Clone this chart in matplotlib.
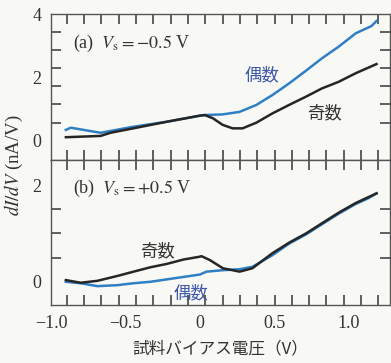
import numpy as np
import matplotlib.pyplot as plt

plt.rcParams['font.family'] = ['Liberation Serif', 'Noto Sans CJK JP']
plt.rcParams['mathtext.fontset'] = 'stix'
plt.rcParams['font.size'] = 13
plt.rcParams['axes.edgecolor'] = '#555555'
plt.rcParams['axes.linewidth'] = 1.0

# (a) Vs = -0.5 V
top_even_v = [-0.9, -0.867, -0.667, -0.447, -0.22, 0.0, 0.033, 0.153, 0.267, 0.38,
              0.487, 0.6, 0.713, 0.82, 0.933, 1.047, 1.153, 1.187]
top_even_g = [0.34, 0.41, 0.25, 0.44, 0.60, 0.79, 0.81, 0.83, 0.91, 1.13,
              1.44, 1.81, 2.21, 2.60, 2.97, 3.39, 3.62, 3.78]
top_odd_v = [-0.9, -0.667, -0.6, -0.447, -0.22, 0.0, 0.033, 0.087, 0.153, 0.22,
             0.287, 0.38, 0.487, 0.6, 0.713, 0.82, 0.933, 1.047, 1.187]
top_odd_g = [0.11, 0.15, 0.25, 0.39, 0.60, 0.79, 0.81, 0.71, 0.50, 0.39,
             0.39, 0.57, 0.86, 1.13, 1.39, 1.65, 1.86, 2.13, 2.42]

# (b) Vs = +0.5 V
bot_odd_v = [-0.9, -0.8, -0.689, -0.555, -0.445, -0.333, -0.222, -0.111, 0.0, 0.011,
             0.067, 0.155, 0.267, 0.353, 0.487, 0.6, 0.713, 0.82, 0.933, 1.047, 1.187]
bot_odd_g = [0.035, -0.02, 0.02, 0.12, 0.21, 0.30, 0.37, 0.46, 0.52, 0.53,
             0.45, 0.28, 0.21, 0.28, 0.59, 0.81, 1.00, 1.21, 1.43, 1.63, 1.83]
bot_even_v = [-0.9, -0.8, -0.689, -0.555, -0.445, -0.333, -0.222, -0.111, 0.0, 0.045,
              0.155, 0.267, 0.353, 0.487, 0.6, 0.713, 0.82, 0.933, 1.047, 1.133, 1.187]
bot_even_g = [0.0, -0.03, -0.09, -0.07, -0.03, 0.0, 0.05, 0.10, 0.15, 0.21,
              0.24, 0.26, 0.31, 0.55, 0.79, 0.98, 1.19, 1.41, 1.61, 1.73, 1.83]

xlabels = [-1.0, -0.5, 0, 0.5, 1.0]
xlabel_txt = ['\u22121.0', '\u22120.5', '0', '0.5', '1.0']

blue = '#2f7fc4'
dark = '#262626'
ink = '#333333'
bg = '#f8f8f5'
jp = ['Noto Sans CJK JP']

fig = plt.figure(figsize=(3.91, 3.63), dpi=100, facecolor=bg)
ax1 = fig.add_axes([0.1304, 0.5592, 0.8680, 0.4022])
ax2 = fig.add_axes([0.1304, 0.1598, 0.8680, 0.3994])

# tick marks of the original plot do not line up with the labels
xmarks = -0.8933 + 0.11627 * np.arange(19)

ax1.set_ylim(-0.61, 4.0)
ax1.set_yticks([0, 2, 4], ['0', '2', '4'])
ax1.set_yticks(np.arange(8) * 4 / 7, minor=True)

ax2.set_ylim(-0.48, 2.52)
ax2.set_yticks([0, 2], ['0', '2'])
ax2.set_yticks([0, 0.5, 1.0, 1.5, 2.0], minor=True)

for ax in (ax1, ax2):
    ax.set_facecolor(bg)
    ax.set_xlim(-0.993, 1.28)
    ax.set_xticks(xlabels)
    ax.set_xticks(xmarks, minor=True)
    ax.tick_params(which='minor', direction='in', length=7, width=1.2,
                   color='#444444', top=True, right=True)
    ax.tick_params(which='major', length=0, labelcolor=ink, labelsize=13, pad=7)

ax1.tick_params(axis='x', labelbottom=False)
ax2.set_xticklabels(xlabel_txt)

ax1.plot(top_even_v, top_even_g, color=blue, lw=1.8)
ax1.plot(top_odd_v, top_odd_g, color=dark, lw=1.8)
ax2.plot(bot_even_v, bot_even_g, color=blue, lw=1.8)
ax2.plot(bot_odd_v, bot_odd_g, color=dark, lw=1.8)

ax1.text(-0.853, 3.08, r'(a)  $V_\mathrm{s}=-0.5$ V', va='center', color=ink, fontsize=13)
ax2.text(-0.853, 1.94, r'(b)  $V_\mathrm{s}=+0.5$ V', va='center', color=ink, fontsize=13)

ax1.text(0.42, 2.07, '偶数', family=jp, color='#3f58a8', fontsize=12.5, ha='center', va='center')
ax1.text(0.84, 0.87, '奇数', family=jp, color=ink, fontsize=12.5, ha='center', va='center')
ax2.text(-0.287, 0.64, '奇数', family=jp, color=ink, fontsize=12.5, ha='center', va='center')
ax2.text(-0.06, -0.23, '偶数', family=jp, color='#3f58a8', fontsize=12.5, ha='center', va='center')

fig.text(0.036, 0.545, r'$dI/dV$ (nA/V)', rotation=90, ha='center', va='center',
         color=ink, fontsize=13.5)
fig.text(0.563, 0.04, '試料バイアス電圧（V）', family=jp, ha='center', va='center',
         color=ink, fontsize=12)

fig.savefig('out.png', dpi=100, facecolor=bg)
